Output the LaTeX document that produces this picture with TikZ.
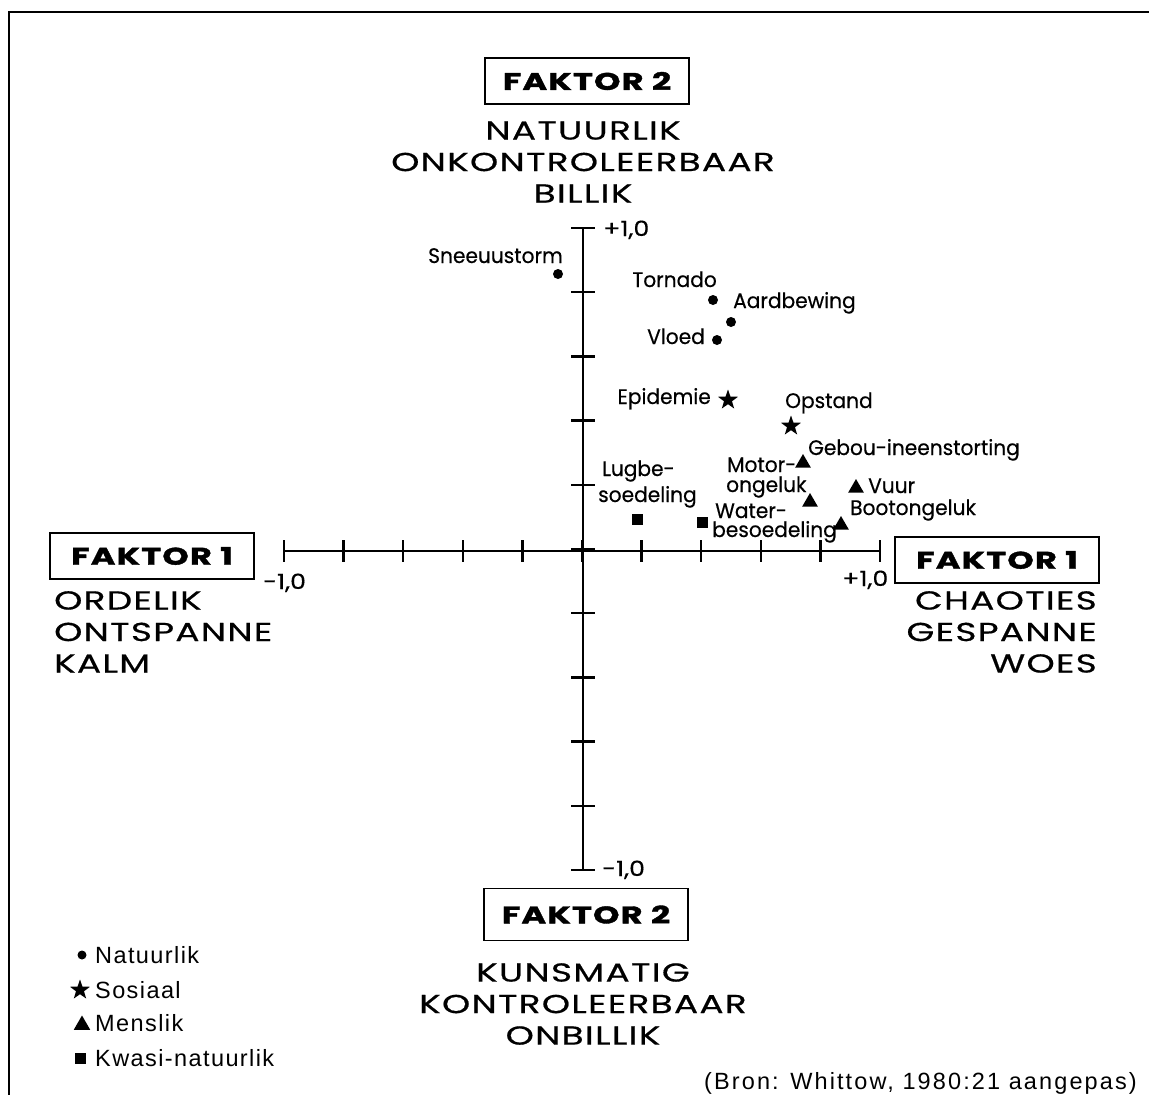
\documentclass[tikz,border=0pt]{standalone}
\usepackage{fontspec}
\setmainfont{Liberation Sans}
\newfontfamily\geo[FakeStretch=0.96,FakeBold=0.4]{Poppins}
\newfontfamily\geonum[FakeStretch=1.2,FakeBold=0.4]{Poppins}
\newfontfamily\geocaps[FakeStretch=1.38,LetterSpace=5,FakeBold=0.6]{Poppins}
\newfontfamily\geohead[FakeStretch=1.4,LetterSpace=5,FakeBold=1.5]{Poppins}
\newfontfamily\helv[LetterSpace=6]{Liberation Sans}
\newfontfamily\helvwide[LetterSpace=9]{Liberation Sans}
\usetikzlibrary{shapes.geometric,calc}

\begin{document}
\begin{tikzpicture}[x=1pt,y=-1pt,
  axisline/.style={line width=2.3pt},
  frameline/.style={line width=2pt},
  factorbox/.style={draw, line width=1.4pt, minimum width=204pt, minimum height=46pt,
    inner sep=0pt, font=\geohead\bfseries\fontsize{24}{26}\selectfont},
  poletext/.style={inner sep=0pt, font=\geocaps\fontsize{26}{31.5}\selectfont},
  itemlabel/.style={inner sep=0pt, font=\geo\fontsize{21}{22}\selectfont},
  ticklabel/.style={inner sep=0pt, font=\geonum\fontsize{21}{22}\selectfont},
  legendtext/.style={inner sep=0pt, font=\helv\fontsize{23.5}{25}\selectfont},
  sourcetext/.style={inner sep=0pt, font=\helvwide\fontsize{23.5}{25}\selectfont},
  dotmark/.style={circle, fill, inner sep=0pt, minimum size=10pt},
  starmark/.style={star, star points=5, star point ratio=2.5, fill, inner sep=0pt, minimum size=21pt},
  trimark/.style={regular polygon, regular polygon sides=3, fill, inner sep=0pt, minimum size=18pt},
  sqmark/.style={rectangle, fill, inner sep=0pt, minimum size=11pt}
]
\useasboundingbox (0,0) rectangle (1149,1095);
\fill[white] (0,0) rectangle (1149,1095);

% frame (left and top edges)
\coordinate (fbl) at (9,1095);
\coordinate (ftl) at (9,12);
\coordinate (ftr) at (1149,12);
\draw[frameline] (fbl) -- (ftl) -- (ftr);

% axes
\coordinate (xl) at (284,551);
\coordinate (xr) at (880,551);
\coordinate (yt) at (583,228);
\coordinate (yb) at (583,870);
\draw[axisline] (xl) -- (xr);
\draw[axisline] (yt) -- (yb);
\foreach \i in {0,...,10}{
  \draw[axisline] ($(xl)+(59.6*\i,-11)$) -- ++(0,22);
  \draw[axisline] ($(yt)+(-12,64.2*\i)$) -- ++(24,0);
}
\node[ticklabel, anchor=base west] (tyt) at (603,236) {+1,0};
\node[ticklabel, anchor=base west] (tyb) at (602,876) {-1,0};
\node[ticklabel, anchor=base west] (txl) at (263,589) {-1,0};
\node[ticklabel, anchor=base west] (txr) at (842,586) {+1,0};

% factor boxes and pole descriptions
\node[factorbox] (f2top) at (587,81) {FAKTOR 2};
\node[poletext, align=center] (ptop) at (583,162) {NATUURLIK\\ONKONTROLEERBAAR\\BILLIK};

\node[factorbox] (f1left) at (152,556) {FAKTOR 1};
\node[poletext, align=left, anchor=north west] (pleft) at (54,591) {ORDELIK\\ONTSPANNE\\KALM};

\node[factorbox] (f1right) at (997,560) {FAKTOR 1};
\node[poletext, align=right, anchor=north east] (pright) at (1097,591) {CHAOTIES\\GESPANNE\\WOES};

\node[factorbox, minimum height=52pt] (f2bot) at (586,914.5) {FAKTOR 2};
\node[poletext, align=center] (pbot) at (583,1004) {KUNSMATIG\\KONTROLEERBAAR\\ONBILLIK};

% plotted hazards: natural
\node[dotmark] (sneeu) at (558,274) {};
\node[itemlabel, anchor=base east] (sneeut) at (563,263) {Sneeuustorm};
\node[dotmark] (torn) at (713,300) {};
\node[itemlabel, anchor=base east] (tornt) at (717,287) {Tornado};
\node[dotmark] (aard) at (731,322) {};
\node[itemlabel, anchor=base west] (aardt) at (733,308) {Aardbewing};
\node[dotmark] (vloed) at (717,340) {};
\node[itemlabel, anchor=base east] (vloedt) at (705,344) {Vloed};

% social
\node[starmark] (epi) at (728,400) {};
\node[itemlabel, anchor=base east] (epit) at (711,404) {Epidemie};
\node[starmark] (opst) at (791,426) {};
\node[itemlabel, anchor=base west] (opstt) at (785,408) {Opstand};

% human
\node[trimark] (gebou) at (803,463) {};
\node[itemlabel, anchor=base west] (gebout) at (808,455) {Gebou-ineenstorting};
\node[trimark] (motor) at (810,502) {};
\node[itemlabel, anchor=base west] (motort) at (727,472) {Motor-};
\node[itemlabel, anchor=base west] (motort2) at (726,492) {ongeluk};
\node[trimark] (vuur) at (856,488) {};
\node[itemlabel, anchor=base west] (vuurt) at (868,493) {Vuur};
\node[trimark] (boot) at (841,525) {};
\node[itemlabel, anchor=base west] (boott) at (850,515) {Bootongeluk};

% quasi-natural
\node[sqmark] (lug) at (637,519) {};
\node[itemlabel, anchor=base west] (lugt) at (602,476) {Lugbe-};
\node[itemlabel, anchor=base west] (lugt2) at (598,502) {soedeling};
\node[sqmark] (water) at (702,522) {};
\node[itemlabel, anchor=base west] (watert) at (715,518) {Water-};
\node[itemlabel, anchor=base west] (watert2) at (712,537) {besoedeling};

% legend
\node[dotmark, minimum size=9pt] (lg1) at (82,955) {};
\node[legendtext, anchor=base west] (lg1t) at (95,963.5) {Natuurlik};
\node[starmark, minimum size=21pt] (lg2) at (80,990) {};
\node[legendtext, anchor=base west] (lg2t) at (95,998.5) {Sosiaal};
\node[trimark, minimum size=19pt] (lg3) at (82,1025) {};
\node[legendtext, anchor=base west] (lg3t) at (95,1031.5) {Menslik};
\node[sqmark, minimum size=11pt] (lg4) at (80,1058) {};
\node[legendtext, anchor=base west] (lg4t) at (95,1066.5) {Kwasi-natuurlik};

% source
\node[sourcetext, anchor=base east] (src) at (1137,1089) {(Bron: Whittow, 1980:21 aangepas)};
\end{tikzpicture}
\end{document}
